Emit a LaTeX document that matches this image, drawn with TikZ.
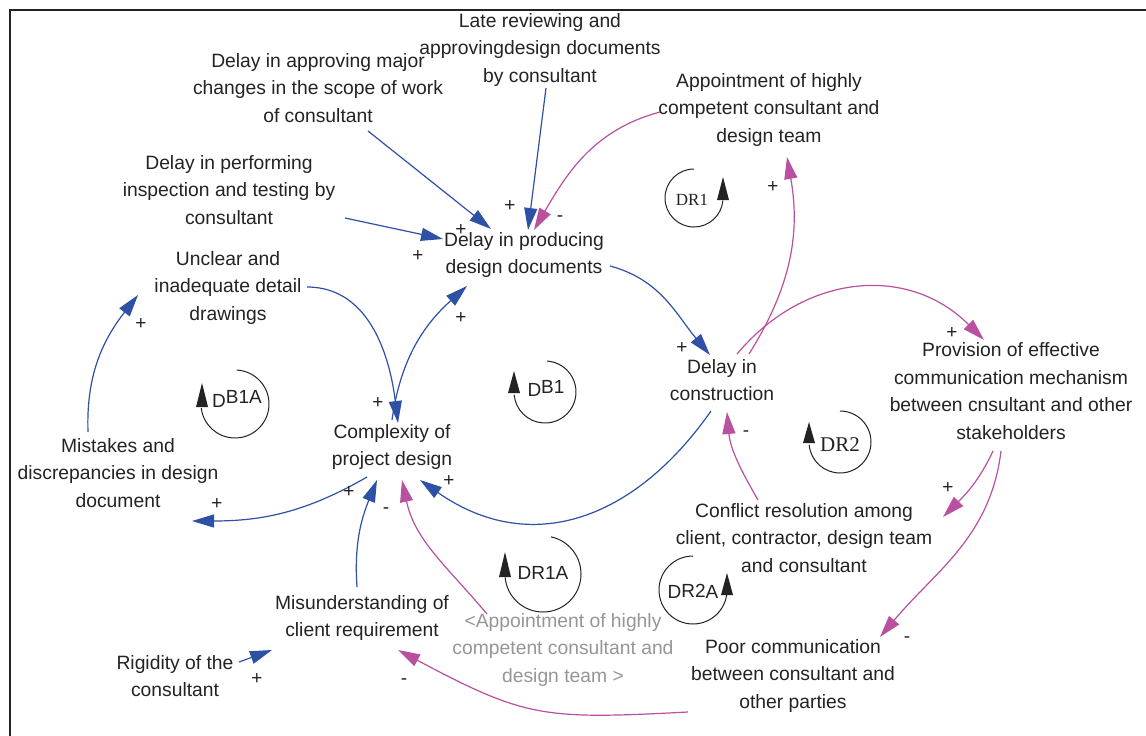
\documentclass[tikz,border=0pt]{standalone}
\usepackage{fontspec}
\setmainfont{Liberation Sans}
\newfontfamily\serifloop{Liberation Serif}
\usetikzlibrary{arrows.meta}
\definecolor{bl}{RGB}{46,80,165}
\definecolor{mg}{RGB}{185,80,160}
\definecolor{gr}{RGB}{150,150,150}
\definecolor{tx}{RGB}{35,35,35}
\begin{document}
\begin{tikzpicture}[x=1pt,y=1pt,
  txt/.style={font=\fontsize{19.3}{27.5}\selectfont, align=center, text=tx, inner sep=0pt},
  sgn/.style={font=\fontsize{19}{20}\selectfont, text=tx, inner sep=0pt},
  lnk/.style={line width=1.2pt, -{Triangle[length=22pt,width=13pt]}},
  bln/.style={lnk, draw=bl},
  mgn/.style={lnk, draw=mg},
  loopc/.style={line width=1pt, draw=tx},
  looptip/.style={fill=tx},
  lpsans/.style={font=\fontsize{19}{20}\selectfont, text=tx, inner sep=0pt},
  lpserif/.style={text=tx, inner sep=0pt}]
\useasboundingbox (0,0) rectangle (1146,-736);
\fill[white] (0,0) rectangle (1146,-736);
\draw[line width=1.5pt, draw=tx] (10,-736) -- (10,-10) -- (1146,-10);

% variables
\node[txt] (late) at (540,-50) {Late reviewing and\\approvingdesign documents\\by consultant};
\node[txt] (appr) at (318,-88) {Delay in approving major\\changes in the scope of work\\of consultant};
\node[txt] (appt) at (769,-110) {Appointment of highly\\competent consultant and\\design team};
\node[txt] (insp) at (229,-190) {Delay in performing\\inspection and testing by\\consultant};
\node[txt] (prod) at (524,-255) {Delay in producing\\design documents};
\node[txt] (uncl) at (228,-288) {Unclear and\\inadequate detail\\drawings};
\node[txt] (cons) at (722,-380) {Delay in\\construction};
\node[txt] (prov) at (1011,-391) {Provision of effective\\communication mechanism\\between cnsultant and other\\stakeholders};
\node[txt] (cplx) at (392,-447) {Complexity of\\project design};
\node[txt] (mist) at (118,-473) {Mistakes and\\discrepancies in design\\document};
\node[txt] (conf) at (804,-538) {Conflict resolution among\\client, contractor, design team\\and consultant};
\node[txt] (misu) at (362,-618) {Misunderstanding of\\client requirement};
\node[txt, text=gr] (shad) at (563,-650) {<Appointment of highly\\competent consultant and\\design team >};
\node[txt] (rigi) at (175,-676) {Rigidity of the\\consultant};
\node[txt] (poor) at (793,-676) {Poor communication\\between consultant and\\other parties};

% blue links
\draw[bln] ([shift={(50,-43)}]appr.center) -- ([shift={(-33,26)}]prod.center);
\draw[bln] ([shift={(6,-38)}]late.center) -- ([shift={(4,25)}]prod.center);
\draw[bln] ([shift={(116,-28)}]insp.center) -- ([shift={(-81,16)}]prod.center);
\draw[bln] ([shift={(86,-11)}]prod.center) to[out=-15,in=130] ([shift={(-12,25)}]cons.center);
\draw[bln] ([shift={(-11,-31)}]cons.center) to[out=-125,in=-35,looseness=1.15] ([shift={(28,-33)}]cplx.center);
\draw[bln] ([shift={(0,27)}]cplx.center) to[out=82,in=-138] ([shift={(-57,-31)}]prod.center);
\draw[bln] ([shift={(79,1)}]uncl.center) to[out=0,in=97] ([shift={(6,24)}]cplx.center);
\draw[bln] ([shift={(-30,41)}]mist.center) to[out=92,in=-128] ([shift={(-90,-7)}]uncl.center);
\draw[bln] ([shift={(-25,-30)}]cplx.center) to[out=-150,in=0] ([shift={(74,-48)}]mist.center);
\draw[bln] ([shift={(-5,31)}]misu.center) to[out=94,in=-112] ([shift={(-15,-33)}]cplx.center);
\draw[bln] ([shift={(64,14)}]rigi.center) -- ([shift={(-90,-32)}]misu.center);

% magenta links
\draw[mgn] ([shift={(-109,-2)}]appt.center) to[out=195,in=60] ([shift={(10,25)}]prod.center);
\draw[mgn] ([shift={(27,26)}]cons.center) to[out=58,in=-80] ([shift={(18,-47)}]appt.center);
\draw[mgn] ([shift={(15,26)}]cons.center) to[out=50,in=135,looseness=1.1] ([shift={(-27,51)}]prov.center);
\draw[mgn] ([shift={(-18,-60)}]prov.center) to[out=-115,in=45] ([shift={(139,21)}]conf.center);
\draw[mgn] ([shift={(-10,-60)}]prov.center) to[out=-97,in=50] ([shift={(87,39)}]poor.center);
\draw[mgn] ([shift={(-46,38)}]conf.center) to[out=120,in=-85] ([shift={(5,-32)}]cons.center);
\draw[mgn] ([shift={(-76,36)}]shad.center) to[out=130,in=-78] ([shift={(10,-33)}]cplx.center);
\draw[mgn] ([shift={(-105,-36)}]poor.center) to[out=183,in=-28,looseness=1.25] ([shift={(36,-32)}]misu.center);

% polarity signs
\node[sgn] (s1) at (510,-206) {+};
\node[sgn] (s2) at (560,-219) {-};
\node[sgn] (s3) at (461,-230) {+};
\node[sgn] (s4) at (418,-256) {+};
\node[sgn] (s5) at (461,-318) {+};
\node[sgn] (s6) at (141,-324) {+};
\node[sgn] (s7) at (378,-403) {+};
\node[sgn] (s8) at (682,-348) {+};
\node[sgn] (s9) at (773,-187) {+};
\node[sgn] (s10) at (952,-333) {+};
\node[sgn] (s11) at (349,-492) {+};
\node[sgn] (s12) at (217,-504) {+};
\node[sgn] (s13) at (449,-481) {+};
\node[sgn] (s14) at (386,-511) {-};
\node[sgn] (s15) at (746,-434) {-};
\node[sgn] (s16) at (948,-488) {+};
\node[sgn] (s17) at (907,-640) {-};
\node[sgn] (s18) at (257,-679) {+};
\node[sgn] (s19) at (404,-682) {-};

% loop markers
\draw[loopc] (694,-198) ++(90:29) arc[start angle=90, end angle=355, radius=29];
\fill[looptip] (717,-200) -- (729,-200) -- (723,-177) -- cycle;
\node[lpserif, font=\serifloop\fontsize{17}{20}\selectfont] (dr1) at (692,-200) {DR1};

\draw[loopc] (545,-392) ++(86:31) arc[start angle=86, end angle=-175, radius=31];
\fill[looptip] (508,-393) -- (520,-393) -- (514,-371) -- cycle;
\node[lpsans] (db1) at (546,-388) {D\raisebox{3pt}{B1}};

\draw[loopc] (235,-404) ++(87:34) arc[start angle=87, end angle=-173, radius=34];
\fill[looptip] (196,-407) -- (208,-407) -- (202,-383) -- cycle;
\node[lpsans] (db1a) at (237,-399) {D\raisebox{4pt}{B1A}};

\draw[loopc] (543,-574) ++(78:38) arc[start angle=78, end angle=-175, radius=38];
\fill[looptip] (499,-577) -- (511,-577) -- (505,-552) -- cycle;
\node[lpsans] (dr1a) at (543,-573) {DR1A};

\draw[loopc] (693,-590) ++(90:34) arc[start angle=90, end angle=355, radius=34];
\fill[looptip] (721,-595) -- (733,-595) -- (727,-573) -- cycle;
\node[lpsans] (dr2a) at (693,-591) {D\raisebox{1pt}{R2}A};

\draw[loopc] (840,-442) ++(90:31) arc[start angle=90, end angle=-175, radius=31];
\fill[looptip] (803,-443) -- (815,-443) -- (809,-422) -- cycle;
\node[lpserif, font=\serifloop\fontsize{21}{24}\selectfont] (dr2) at (840,-445) {DR2};
\end{tikzpicture}
\end{document}
